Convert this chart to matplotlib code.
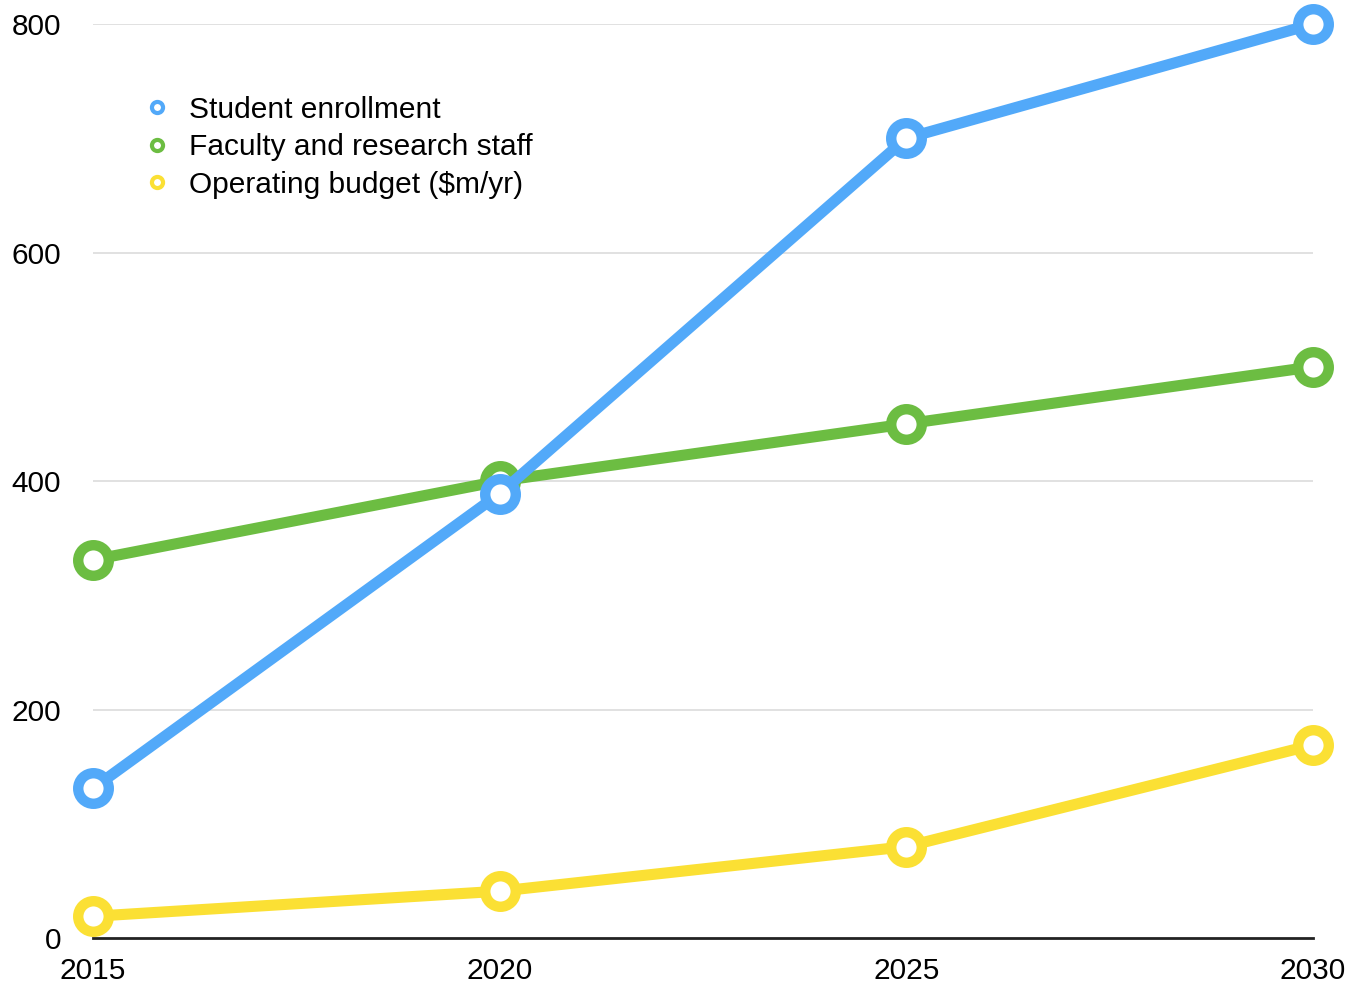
import matplotlib.pyplot as plt
from matplotlib.lines import Line2D

plt.rcParams['font.family'] = ['Liberation Sans', 'DejaVu Sans']

years = [2015, 2020, 2025, 2030]
enrollment = [131, 389, 700, 800]
faculty = [331, 400, 450, 500]
budget = [19, 41, 80, 169]

labels = ['Student enrollment', 'Faculty and research staff', 'Operating budget ($m/yr)']
colors = ['#52a9f9', '#6cbd42', '#fbe034']

fig = plt.figure(figsize=(13.52, 9.88), dpi=100)
ax = fig.add_axes([0.0688, 0.0506, 0.9024, 0.9251])

# draw budget first, enrollment on top
series = [(budget, colors[2]), (faculty, colors[1]), (enrollment, colors[0])]
for vals, col in series:
    ax.plot(years, vals, color=col, lw=8, marker='o', ms=22, mew=7.5,
            mfc='white', mec=col, clip_on=False, solid_capstyle='round',
            zorder=3)

ax.set_xlim(2015, 2030)
ax.set_ylim(0, 800)
ax.set_xticks(years)
ax.set_yticks([0, 200, 400, 600, 800])
ax.tick_params(axis='both', length=0, labelsize=21.5)
ax.tick_params(axis='y', pad=23)
ax.tick_params(axis='x', pad=14)

for y in [200, 400, 600, 800]:
    ax.axhline(y, color='#dcdcdc', lw=1.2, zorder=1)

for s in ['top', 'right', 'left']:
    ax.spines[s].set_visible(False)
ax.spines['bottom'].set_color('#222222')
ax.spines['bottom'].set_linewidth(2)

# legend uses smaller ring markers
leg_h = [Line2D([], [], ls='none', marker='o', ms=8, mew=3, mfc='white', mec=c)
         for c in colors]
ax.legend(leg_h, labels, loc='upper left', bbox_to_anchor=(0.016, 0.951),
          frameon=False, fontsize=21.5, handletextpad=0.45, labelspacing=0.32,
          handlelength=1.2)

fig.savefig('out.png', dpi=100)
